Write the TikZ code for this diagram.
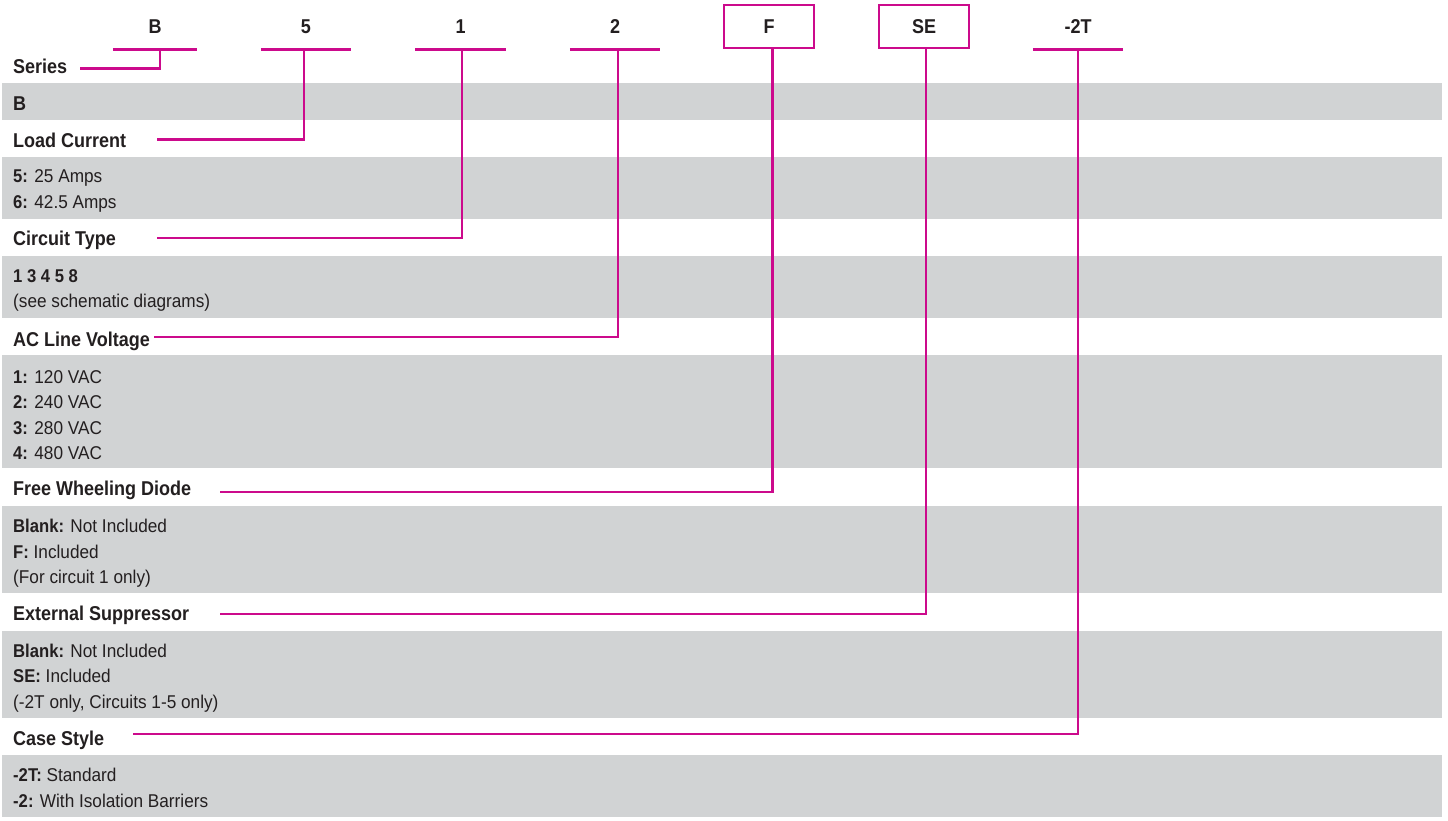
\documentclass[tikz,border=0pt]{standalone}
\usepackage{fontspec}
\setmainfont{Liberation Sans}[UprightFeatures={FakeStretch=0.93},BoldFeatures={FakeStretch=0.9}]
\definecolor{mag}{HTML}{CC0A8C}
\definecolor{band}{HTML}{D1D3D4}
\definecolor{ink}{HTML}{231F20}
\tikzset{
  hdr/.style={inner sep=0pt, minimum width=90pt, minimum height=45pt, text=ink,
              font=\fontsize{20}{22}\selectfont\bfseries},
  hbox/.style={hdr, draw=mag, line width=2.7pt},
  lbl/.style={inner sep=0pt, anchor=base west, text=ink,
              font=\fontsize{20}{22}\selectfont\bfseries},
  body/.style={inner sep=0pt, anchor=base west, text=ink,
              font=\fontsize{18.5}{22}\selectfont},
  conn/.style={draw=mag, line width=2.7pt},
  bandfill/.style={fill=band}
}
\begin{document}
\begin{tikzpicture}[x=1pt,y=-1pt]
\useasboundingbox (0,0) rectangle (1448,820);
% bands
\foreach \a/\b in {83/120,157/219,256/318,355/468,506/593,631/718,755/817}
  \path[bandfill] (2,\a) rectangle (1442,\b);
% headers
\node[hdr, minimum width=84pt] (hB) at (155,26.5) {B};
\node[hdr] (h5) at (306,26.5) {5};
\node[hdr] (h1) at (460.5,26.5) {1};
\node[hdr] (h2) at (615,26.5) {2};
\node[hbox, minimum width=90pt, minimum height=43pt] (hF) at (769,26.5) {F};
\node[hbox, minimum width=90pt, minimum height=43pt] (hSE) at (924,26.5) {SE};
\node[hdr] (h2T) at (1078,26.5) {-2T};
\foreach \h in {hB,h5,h1,h2,h2T}
  \draw[conn] (\h.south west) -- (\h.south east);
% labels
\node[lbl] (lSeries) at (13,73) {Series};
\node[lbl] (lLoad) at (13,147) {Load Current};
\node[lbl] (lCirc) at (13,245) {Circuit Type};
\node[lbl] (lAC) at (13,346) {AC Line Voltage};
\node[lbl] (lFree) at (13,495) {Free Wheeling Diode};
\node[lbl] (lExt) at (13,620) {External Suppressor};
\node[lbl] (lCase) at (13,745) {Case Style};
% band texts
\node[lbl] (tB) at (13,110) {B};
\node[body] (t5) at (13,182) {\textbf{5:} 25 Amps};
\node[body] (t6) at (13,208) {\textbf{6:} 42.5 Amps};
\node[body] (tc1) at (13,282) {\textbf{1 3 4 5 8}};
\node[body] (tc2) at (13,307) {(see schematic diagrams)};
\node[body] (tv1) at (13,383) {\textbf{1:} 120 VAC};
\node[body] (tv2) at (13,408) {\textbf{2:} 240 VAC};
\node[body] (tv3) at (13,434) {\textbf{3:} 280 VAC};
\node[body] (tv4) at (13,459) {\textbf{4:} 480 VAC};
\node[body] (tf1) at (13,532) {\textbf{Blank:} Not Included};
\node[body] (tf2) at (13,558) {\textbf{F:} Included};
\node[body] (tf3) at (13,583) {(For circuit 1 only)};
\node[body] (ts1) at (13,657) {\textbf{Blank:} Not Included};
\node[body] (ts2) at (13,682) {\textbf{SE:} Included};
\node[body] (ts3) at (13,708) {(-2T only, Circuits 1-5 only)};
\node[body] (tk1) at (13,781) {\textbf{-2T:} Standard};
\node[body] (tk2) at (13,807) {\textbf{-2:} With Isolation Barriers};
% connector free ends
\coordinate (eSeries) at (80,68.5);
\coordinate (eLoad) at (157,139.5);
\coordinate (eCirc) at (157,238);
\coordinate (eAC) at (154,337);
\coordinate (eFree) at (220,492);
\coordinate (eExt) at (220,614);
\coordinate (eCase) at (133,734);
% connectors
\draw[conn] ([xshift=5pt]hB.south) |- (eSeries);
\draw[conn] ([xshift=-2pt]h5.south) |- (eLoad);
\draw[conn] ([xshift=1.5pt]h1.south) |- (eCirc);
\draw[conn] ([xshift=3pt]h2.south) |- (eAC);
\draw[conn] ([xshift=3.5pt]hF.south) |- (eFree);
\draw[conn] ([xshift=2pt]hSE.south) |- (eExt);
\draw[conn] (h2T.south) |- (eCase);
\end{tikzpicture}
\end{document}
